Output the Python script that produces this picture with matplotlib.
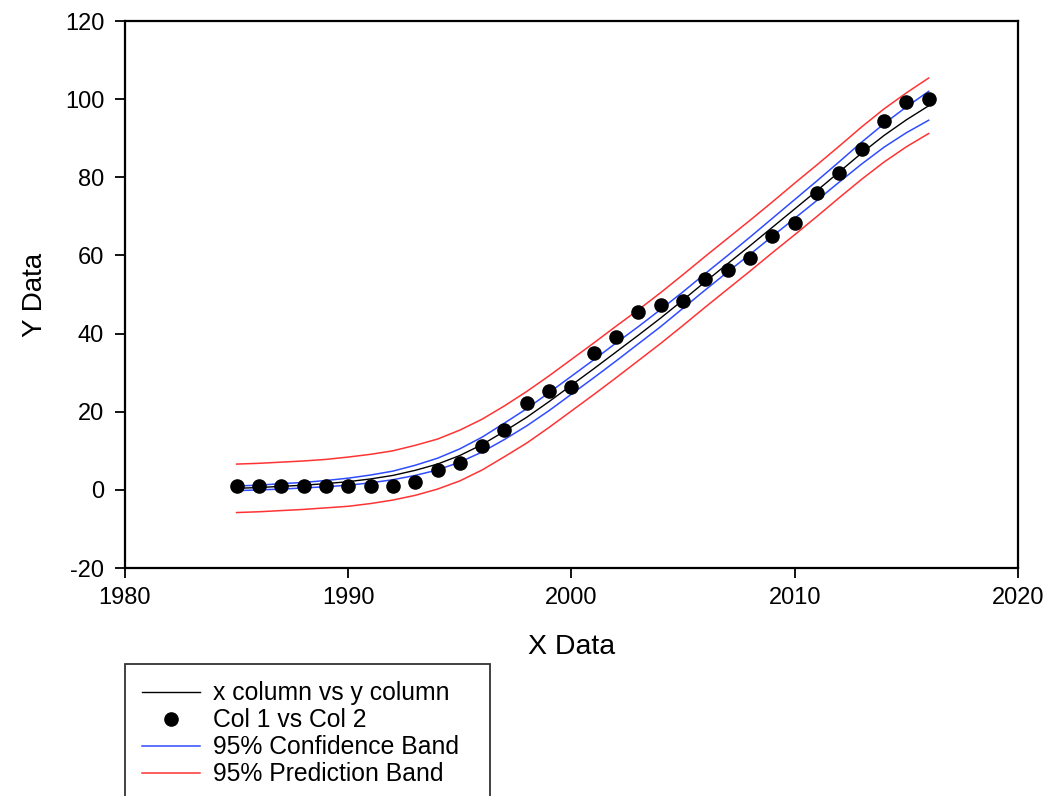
import numpy as np
import matplotlib
matplotlib.use('Agg')
import matplotlib.pyplot as plt
from matplotlib.lines import Line2D

plt.rcParams['font.family'] = ['Liberation Sans', 'DejaVu Sans']
plt.rcParams['axes.unicode_minus'] = False

# data
years = list(range(1985, 2017))
col2 = [1, 1, 1, 1, 1, 1, 1, 1, 2, 5.1, 6.9, 11.2, 15.2, 22.2, 25.2, 26.4,
        35.0, 39.2, 45.4, 47.3, 48.4, 54.0, 56.3, 59.4, 65.0, 68.2,
        76.0, 81.1, 87.3, 94.4, 99.3, 100.0]

fit = [0.4, 0.6, 0.9, 1.2, 1.6, 2.1, 2.8, 3.7, 5.0, 6.6, 8.8, 11.6, 15.0, 18.6,
       22.6, 26.8, 31.0, 35.3, 39.6, 44.0, 48.6, 53.3, 57.9, 62.5, 67.2, 71.9,
       76.6, 81.4, 86.2, 90.7, 94.7, 98.3]

conf_upper = [1.0, 1.2, 1.6, 1.9, 2.4, 3.0, 3.8, 4.8, 6.3, 8.1, 10.5, 13.5, 17.1,
              20.8, 24.9, 29.1, 33.3, 37.6, 41.8, 46.2, 50.7, 55.4, 60.0, 64.7,
              69.5, 74.3, 79.1, 84.0, 89.0, 93.7, 98.0, 102.0]
conf_lower = [-0.2, 0.0, 0.2, 0.5, 0.8, 1.2, 1.8, 2.6, 3.7, 5.1, 7.1, 9.7, 12.9,
              16.4, 20.3, 24.5, 28.7, 33.0, 37.4, 41.8, 46.5, 51.2, 55.8, 60.3,
              64.9, 69.5, 74.1, 78.8, 83.4, 87.7, 91.4, 94.6]

pred_upper = [6.6, 6.8, 7.1, 7.4, 7.8, 8.4, 9.1, 10.0, 11.4, 13.0, 15.3, 18.1,
              21.5, 25.2, 29.2, 33.4, 37.6, 41.9, 46.1, 50.5, 55.1, 59.8, 64.4,
              69.0, 73.7, 78.5, 83.2, 88.0, 92.9, 97.5, 101.6, 105.4]
pred_lower = [-5.8, -5.6, -5.3, -5.0, -4.6, -4.2, -3.5, -2.6, -1.4, 0.2, 2.3, 5.1,
              8.5, 12.0, 16.0, 20.2, 24.4, 28.7, 33.1, 37.5, 42.1, 46.8, 51.4,
              56.0, 60.7, 65.3, 70.0, 74.8, 79.5, 83.9, 87.8, 91.2]

x_ticks = [1980, 1990, 2000, 2010, 2020]
y_ticks = [-20, 0, 20, 40, 60, 80, 100, 120]

blue = '#2f4cff'
red = '#ff3333'

fig = plt.figure(figsize=(10.45, 7.96), dpi=100)
ax = fig.add_axes([0.1196, 0.2864, 0.8545, 0.6872])

ax.plot(years, pred_upper, color=red, lw=1.1)
ax.plot(years, pred_lower, color=red, lw=1.1)
ax.plot(years, conf_upper, color=blue, lw=1.1)
ax.plot(years, conf_lower, color=blue, lw=1.1)
ax.plot(years, fit, color='black', lw=1.0)
ax.plot(years, col2, 'o', color='black', markersize=10.5, markeredgewidth=0)

ax.set_xlim(1980, 2020)
ax.set_ylim(-20, 120)
ax.set_xticks(x_ticks)
ax.set_yticks(y_ticks)
ax.tick_params(direction='out', length=7, width=1.3, labelsize=17,
               colors='black')
ax.tick_params(axis='x', pad=7)
ax.tick_params(axis='y', pad=8)
for sp in ax.spines.values():
    sp.set_linewidth(1.6)

ax.set_xlabel('X Data', fontsize=20.5)
ax.set_ylabel('Y Data', fontsize=20)
ax.xaxis.set_label_coords(0.5, -0.1444)
ax.xaxis.label.set_va('center')
ax.yaxis.set_label_coords(-0.1008, 0.5)
ax.yaxis.label.set_va('center')

handles = [
    Line2D([], [], color='black', lw=1.0),
    Line2D([], [], marker='o', ls='none', color='black', markersize=9.5),
    Line2D([], [], color=blue, lw=1.1),
    Line2D([], [], color=red, lw=1.1),
]
labels = ['x column vs y column', 'Col 1 vs Col 2',
          '95% Confidence Band', '95% Prediction Band']
leg = fig.legend(handles, labels, loc='upper left',
                 bbox_to_anchor=(125 / 1045, 1 - 664 / 796, 365 / 1045, 0),
                 mode='expand', fontsize=17.8, frameon=True, fancybox=False,
                 edgecolor='black', handlelength=2.35, handletextpad=0.5,
                 labelspacing=0.12, borderpad=0.7, borderaxespad=0)
leg.get_frame().set_linewidth(1.3)

fig.savefig('out.png', dpi=100)
